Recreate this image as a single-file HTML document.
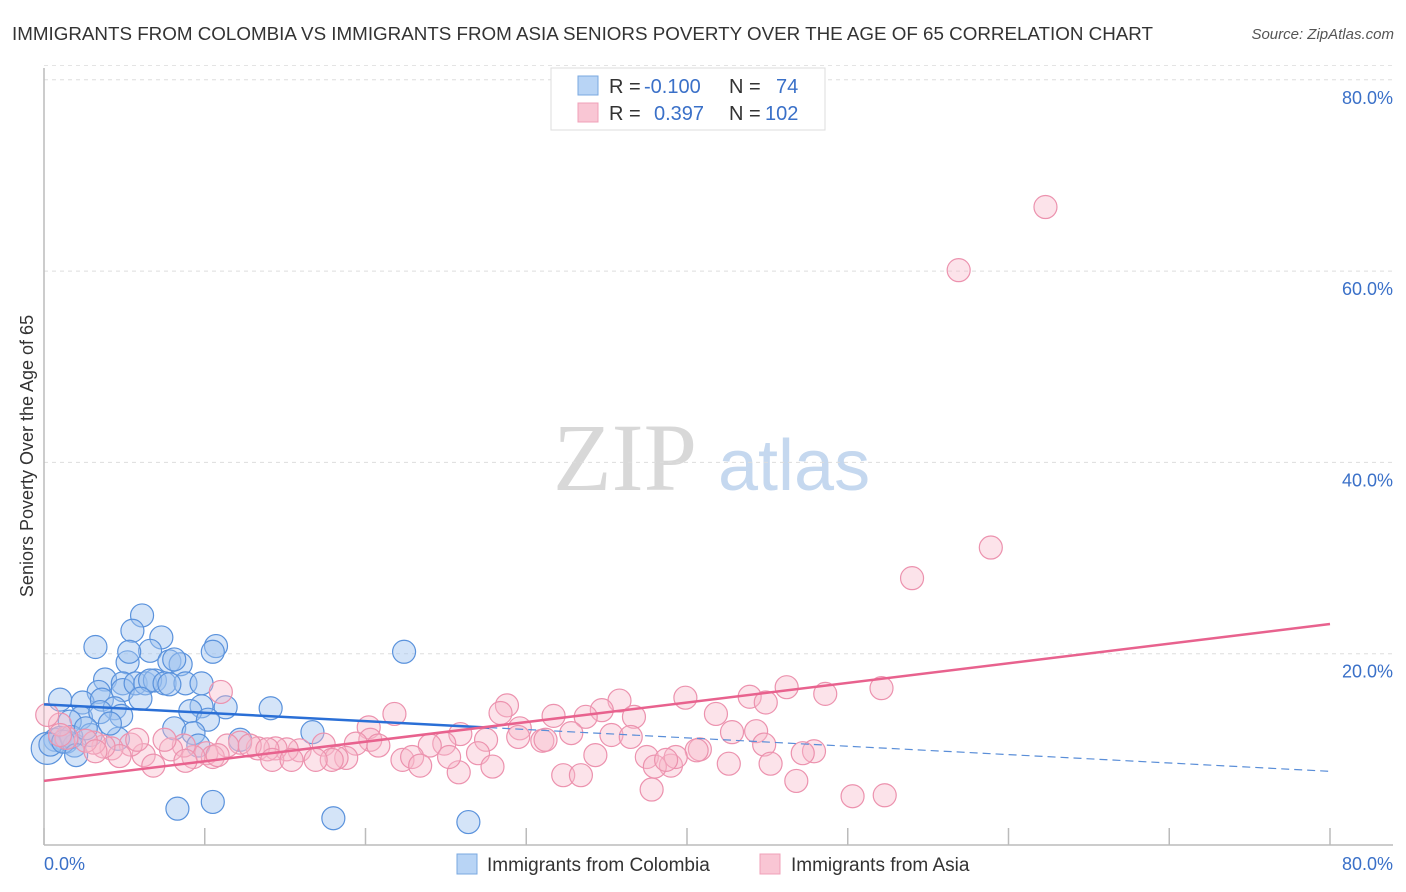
<!DOCTYPE html>
<html><head><meta charset="utf-8">
<style>
body{margin:0;background:#fff;font-family:"Liberation Sans",sans-serif;}
svg{display:block}
</style></head>
<body>
<svg id="chart" width="1406" height="892" xmlns="http://www.w3.org/2000/svg">
<text x="12" y="40" font-size="18.8" fill="#333">IMMIGRANTS FROM COLOMBIA VS IMMIGRANTS FROM ASIA SENIORS POVERTY OVER THE AGE OF 65 CORRELATION CHART</text>
<text x="1394" y="39" font-size="15" fill="#555" font-style="italic" text-anchor="end">Source: ZipAtlas.com</text>
<text x="0" y="0" transform="translate(33,456) rotate(-90)" font-size="18" fill="#333" text-anchor="middle">Seniors Poverty Over the Age of 65</text>
<g>
<text x="553" y="490" font-family="Liberation Serif,serif" font-size="96" fill="#d8d8d8">ZIP</text>
<text x="718" y="490" font-size="72" fill="#c5d8ef">atlas</text>
</g>
<g id="grid"></g>
<g id="axes"></g>
<g id="points"></g>
<g id="trends"></g>
<g>
<rect x="551" y="68" width="274" height="62" fill="#fff" stroke="#ddd"/>
<rect x="578" y="76" width="20" height="19" fill="#b8d4f5" stroke="#7aa8e0"/>
<rect x="578" y="103" width="20" height="19" fill="#f9c6d4" stroke="#f0a0b8"/>
<text x="609" y="93" font-size="20" fill="#333">R =</text>
<text x="644" y="93" font-size="20" fill="#3a70c8">-0.100</text>
<text x="729" y="93" font-size="20" fill="#333">N =</text>
<text x="776" y="93" font-size="20" fill="#3a70c8">74</text>
<text x="609" y="120" font-size="20" fill="#333">R =</text>
<text x="654" y="120" font-size="20" fill="#3a70c8">0.397</text>
<text x="729" y="120" font-size="20" fill="#333">N =</text>
<text x="765" y="120" font-size="20" fill="#3a70c8">102</text>
</g>
<g>
<rect x="457" y="854" width="20" height="20" fill="#b8d4f5" stroke="#7aa8e0"/>
<text x="487" y="871" font-size="19" fill="#333">Immigrants from Colombia</text>
<rect x="760" y="854" width="20" height="20" fill="#f9c6d4" stroke="#f0a0b8"/>
<text x="791" y="871" font-size="19" fill="#333">Immigrants from Asia</text>
</g>
</svg>
<script>
const yTicks=[20,40,60,80];
const yTickLabels=["20.0%","40.0%","60.0%","80.0%"];
const xTicks=[0,10,20,30,40,50,60,70,80];
const blueX=[6.1,5.5,3.2,7.3,6.6,10.7,10.5,22.4,5.2,7.8,8.5,8.1,5.3,3.8,3.4,4.9,4.9,5.7,6.3,6.9,6.6,7.5,8.8,6.0,1.0,2.4,3.6,7.8,9.8,11.3,14.1,9.8,9.1,10.2,2.3,4.4,4.8,1.6,8.1,9.3,16.7,12.2,4.6,2.9,0.7,1.0,1.4,1.9,0.2,0.4,1.7,8.3,10.5,18.0,26.4,3.5,2.6,1.2,9.6,4.1,2.0];
const blueY=[24.0,22.4,20.7,21.7,20.3,20.8,20.2,20.2,19.1,19.2,18.9,19.4,20.2,17.3,16.0,16.9,16.2,16.9,16.9,17.2,17.2,16.9,16.9,15.3,15.2,14.9,15.2,16.8,16.9,14.4,14.3,14.5,14.0,13.1,13.3,14.3,13.5,12.9,12.2,11.7,11.8,11.0,11.1,11.5,11.0,11.2,10.8,10.4,10.1,10.5,11.3,3.8,4.5,2.8,2.4,13.9,12.2,10.8,10.4,12.7,9.4];
const pinkX=[62.3,56.9,58.9,54.0,11.0,52.1,48.6,46.2,43.9,44.9,39.9,35.8,34.7,33.7,36.7,41.8,44.3,42.8,28.8,29.6,28.4,29.5,31.7,32.8,31.0,35.3,36.5,40.8,40.6,44.8,47.9,47.2,37.5,39.0,34.3,31.2,25.9,24.9,27.5,27.0,24.0,21.8,20.2,20.3,19.4,20.8,18.8,17.4,15.9,15.1,14.4,13.3,12.2,11.4,10.1,10.5,9.3,8.7,7.9,7.5,6.2,5.4,4.2,4.7,3.7,3.1,2.6,1.4,1.0,0.2,1.0,3.2,6.8,8.8,12.8,13.9,14.2,18.2,17.9,16.9,22.3,22.9,23.4,27.9,25.8,32.3,33.4,42.6,45.2,38.0,39.3,38.7,46.8,50.3,52.3,37.8,25.2,15.4,5.8,10.8];
const pinkY=[66.7,60.1,31.1,27.9,16.0,16.4,15.8,16.5,15.5,14.9,15.4,15.1,14.1,13.4,13.4,13.7,11.9,11.8,14.6,12.2,13.8,11.3,13.5,11.7,10.9,11.5,11.3,10.0,9.9,10.5,9.8,9.6,9.2,8.3,9.4,11.0,11.6,10.6,11.0,9.6,10.4,13.7,12.3,11.0,10.6,10.4,9.1,10.5,9.9,10.0,10.1,10.1,10.7,10.4,9.6,9.2,9.2,10.4,10.0,11.0,9.4,10.5,10.1,9.3,10.3,10.7,10.9,11.2,12.6,13.6,11.5,9.8,8.3,8.8,10.4,10.0,8.9,9.1,8.9,8.9,8.9,9.2,8.3,8.2,7.6,7.3,7.3,8.5,8.5,8.2,9.2,8.9,6.7,5.1,5.2,5.8,9.2,8.9,11.0,9.4];
const blueTrend=[14.7,7.7];
const blueSolidEnd=27.7;
const pinkTrend=[6.7,23.1];
(function(){
const X=v=>44+v*16.075, Y=v=>845-v*9.565;
const NS="http://www.w3.org/2000/svg";
function mk(tag,attrs,parent){const e=document.createElementNS(NS,tag);for(const k in attrs)e.setAttribute(k,attrs[k]);parent.appendChild(e);return e;}
const grid=document.getElementById('grid'),axes=document.getElementById('axes'),pts=document.getElementById('points'),tr=document.getElementById('trends');
yTicks.forEach((t,i)=>{
 const l=mk('line',{x1:44,x2:1393,y1:Y(t),y2:Y(t),stroke:'#ddd','stroke-dasharray':'4,4'},grid);
 
 
 const tx=mk('text',{x:1393,y:Y(t)+24,'font-size':18,fill:'#3a70c8','text-anchor':'end'},axes);
 tx.textContent=yTickLabels[i];
 
 
});
const topGrid=mk('line',{x1:44,x2:1393,y1:Y(81.5),y2:Y(81.5),stroke:'#e4e4e4','stroke-dasharray':'4,4'},grid);


const ya=mk('line',{x1:44,x2:44,y1:68,y2:845,stroke:'#bbb','stroke-width':1.5},axes);


const xa=mk('line',{x1:44,x2:1393,y1:845,y2:845,stroke:'#bbb','stroke-width':1.5},axes);


xTicks.forEach(t=>{
 const l=mk('line',{x1:X(t),x2:X(t),y1:828,y2:845,stroke:'#bbb','stroke-width':1.5},axes);
 
 
});
[[0,'start','0.0%'],[80,'end','80.0%']].forEach(([v,a,s])=>{
 const t=mk('text',{x:v==0?44:1393,y:870,'font-size':18,fill:'#3a70c8','text-anchor':a},axes);
 t.textContent=s;
 
 
});
blueX.forEach((x,i)=>{
 const c=mk('circle',{cx:X(x),cy:Y(blueY[i]),r:i==48?16:11.5,fill:'rgba(160,196,240,0.45)',stroke:'#5a92dc','stroke-width':1.2},pts);
 
 
});
pinkX.forEach((x,i)=>{
 const c=mk('circle',{cx:X(x),cy:Y(pinkY[i]),r:11.5,fill:'rgba(248,184,202,0.4)',stroke:'#ec92ae','stroke-width':1.2},pts);
 
 
});
const by=v=>blueTrend[0]+(blueTrend[1]-blueTrend[0])*v/80;
const b1=mk('line',{x1:X(0),y1:Y(by(0)),x2:X(blueSolidEnd),y2:Y(by(blueSolidEnd)),stroke:'#2a6fd6','stroke-width':2.5},tr);


const b2=mk('line',{x1:X(blueSolidEnd),y1:Y(by(blueSolidEnd)),x2:X(80),y2:Y(by(80)),stroke:'#5a8ed8','stroke-width':1.2,'stroke-dasharray':'8,5'},tr);


const p1=mk('line',{x1:X(0),y1:Y(pinkTrend[0]),x2:X(80),y2:Y(pinkTrend[1]),stroke:'#e8628e','stroke-width':2.5},tr);


})();
</script>
</body></html>
